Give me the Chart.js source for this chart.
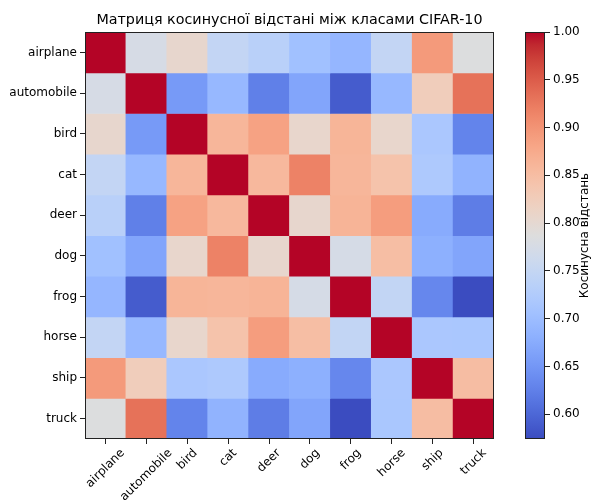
<!DOCTYPE html>
<html>
<head>
<meta charset="utf-8">
<script src="https://cdn.jsdelivr.net/npm/chart.js@4.4.1/dist/chart.umd.min.js"></script>
<style>
  html, body { margin: 0; padding: 0; background: #ffffff; }
  #wrap { position: relative; width: 592px; height: 502px; overflow: hidden; }
  canvas { position: absolute; top: 0; }
</style>
</head>
<body>
<div id="wrap">
  <canvas id="main" width="592" height="502" style="left:0"></canvas>
  <canvas id="cbar" width="92" height="502" style="left:500px"></canvas>
</div>
<script>
// ---------- data ----------
const classes = ['airplane', 'automobile', 'bird', 'cat', 'deer', 'dog', 'frog', 'horse', 'ship', 'truck'];

const rowAirplane   = [1.000, 0.775, 0.805, 0.748, 0.735, 0.705, 0.690, 0.748, 0.893, 0.785];
const rowAutomobile = [0.775, 1.000, 0.654, 0.693, 0.625, 0.667, 0.589, 0.693, 0.825, 0.932];
const rowBird       = [0.805, 0.654, 1.000, 0.860, 0.885, 0.806, 0.862, 0.806, 0.717, 0.629];
const rowCat        = [0.748, 0.693, 0.860, 1.000, 0.857, 0.917, 0.860, 0.842, 0.720, 0.685];
const rowDeer       = [0.735, 0.625, 0.885, 0.857, 1.000, 0.805, 0.863, 0.890, 0.674, 0.622];
const rowDog        = [0.705, 0.667, 0.806, 0.917, 0.805, 1.000, 0.774, 0.849, 0.680, 0.667];
const rowFrog       = [0.690, 0.589, 0.862, 0.860, 0.863, 0.774, 1.000, 0.747, 0.633, 0.574];
const rowHorse      = [0.748, 0.693, 0.806, 0.842, 0.890, 0.849, 0.747, 1.000, 0.717, 0.716];
const rowShip       = [0.893, 0.825, 0.717, 0.720, 0.674, 0.680, 0.633, 0.717, 1.000, 0.850];
const rowTruck      = [0.785, 0.932, 0.629, 0.685, 0.622, 0.667, 0.574, 0.716, 0.850, 1.000];

const distanceRows = [rowAirplane, rowAutomobile, rowBird, rowCat, rowDeer, rowDog, rowFrog, rowHorse, rowShip, rowTruck];

const colorbarTicks = [0.60, 0.65, 0.70, 0.75, 0.80, 0.85, 0.90, 0.95, 1.00];
const titleText = 'Матриця косинусної відстані між класами CIFAR-10';
const colorbarLabel = 'Косинусна відстань';

// ---------- colormap (coolwarm) ----------
const COOLWARM = [
  [59,76,192],[68,90,204],[77,104,215],[87,117,225],[98,130,234],[108,142,241],[119,154,247],[130,165,251],
  [141,176,254],[152,185,255],[163,194,255],[174,201,253],[184,208,249],[194,213,244],[204,217,238],[213,219,230],
  [221,221,221],[229,216,209],[236,211,197],[241,204,185],[245,196,173],[247,187,160],[247,177,148],[247,166,135],
  [244,154,123],[241,141,111],[236,127,99],[229,112,88],[222,96,77],[213,80,66],[203,62,56],[192,40,47],[180,4,38]
];
function cmap(t) {
  t = Math.max(0, Math.min(1, t));
  const n = COOLWARM.length - 1;
  const p = t * n;
  const i = Math.min(Math.floor(p), n - 1);
  const f = p - i;
  const a = COOLWARM[i], b = COOLWARM[i + 1];
  const c = a.map((v, k) => Math.round(v + (b[k] - v) * f));
  return `rgb(${c[0]},${c[1]},${c[2]})`;
}
const allVals = distanceRows.flat();
const vmin = Math.min(...allVals);
const vmax = Math.max(...allVals);
const norm = v => (v - vmin) / (vmax - vmin);

const FONT = 'DejaVu Sans';

// Category scale whose rotated labels are centred on their tick (like matplotlib ha="center")
class CenteredCategoryScale extends Chart.CategoryScale {
  _computeLabelItems(chartArea) {
    const items = super._computeLabelItems(chartArea);
    const rot = (this.labelRotation || 0) * Math.PI / 180;
    if (!rot) return items;
    const ctx = this.ctx;
    items.forEach(item => {
      const f = item.font || (item.options && item.options.font);
      ctx.save();
      if (f && f.string) ctx.font = f.string;
      const w = ctx.measureText(String(item.label)).width;
      ctx.restore();
      item.options.translation[0] += (w / 2) * Math.cos(rot);
    });
    return items;
  }
}
CenteredCategoryScale.id = 'centeredCategory';
CenteredCategoryScale.defaults = Chart.CategoryScale.defaults;
Chart.register(CenteredCategoryScale);

const frame = {
  id: 'frame',
  afterDraw(chart) {
    const { ctx, chartArea: a } = chart;
    ctx.save();
    ctx.strokeStyle = '#222';
    ctx.lineWidth = 1;
    ctx.strokeRect(Math.round(a.left) + 0.5, Math.round(a.top) + 0.5,
                   Math.round(a.right - a.left) - 1, Math.round(a.bottom - a.top) - 1);
    ctx.restore();
  }
};

// ---------- heatmap ----------
new Chart(document.getElementById('main'), {
  type: 'bar',
  data: {
    labels: classes,
    datasets: distanceRows.map((row, i) => ({
      label: classes[i],
      data: row.map(() => [i, i + 1]),
      backgroundColor: row.map(v => cmap(norm(v))),
      borderWidth: 0,
      grouped: false,
      barPercentage: 1,
      categoryPercentage: 1
    }))
  },
  options: {
    responsive: false,
    animation: false,
    devicePixelRatio: 1,
    layout: { padding: { left: 0, right: 98, top: 0, bottom: 0 } },
    plugins: {
      legend: { display: false },
      tooltip: { enabled: false },
      title: {
        display: true,
        text: titleText,
        fullSize: false,
        color: '#000',
        font: { family: FONT, size: 14.3, weight: 'normal' },
        padding: { top: 12, bottom: 3 }
      }
    },
    scales: {
      x: {
        type: 'centeredCategory',
        offset: true,
        afterFit: s => { s.height = 63; },
        grid: { offset: false, drawOnChartArea: false, tickLength: 5, color: '#222' },
        border: { display: false },
        ticks: {
          autoSkip: false, maxRotation: 45, minRotation: 45, padding: 2,
          color: '#000', font: { family: FONT, size: 12 }
        }
      },
      y: {
        type: 'linear',
        min: 0, max: 10, reverse: true,
        afterFit: s => { s.width = 85; },
        afterBuildTicks: s => { s.ticks = classes.map((_, i) => ({ value: i + 0.5 })); },
        grid: { drawOnChartArea: false, tickLength: 5, color: '#222' },
        border: { display: false },
        ticks: {
          autoSkip: false, padding: 3, color: '#000', font: { family: FONT, size: 12 },
          callback: (v, idx) => classes[idx]
        }
      }
    }
  },
  plugins: [frame]
});

// ---------- colorbar ----------
const cbarLabelPlugin = {
  id: 'cbarLabel',
  afterDraw(chart) {
    const { ctx, chartArea: a } = chart;
    ctx.save();
    ctx.translate(85, (a.top + a.bottom) / 2);
    ctx.rotate(-Math.PI / 2);
    ctx.textAlign = 'center';
    ctx.textBaseline = 'middle';
    ctx.fillStyle = '#000';
    ctx.font = `12px "${FONT}"`;
    ctx.fillText(colorbarLabel, 0, 0);
    ctx.restore();
  }
};

new Chart(document.getElementById('cbar'), {
  type: 'bar',
  data: {
    labels: ['cb'],
    datasets: [{
      data: [[vmin, vmax]],
      borderWidth: 0,
      barPercentage: 1,
      categoryPercentage: 1,
      backgroundColor: (context) => {
        const { ctx, chartArea } = context.chart;
        if (!chartArea) return '#dddddd';
        const g = ctx.createLinearGradient(0, chartArea.bottom, 0, chartArea.top);
        const n = COOLWARM.length - 1;
        COOLWARM.forEach((c, i) => g.addColorStop(i / n, `rgb(${c[0]},${c[1]},${c[2]})`));
        return g;
      }
    }]
  },
  options: {
    responsive: false,
    animation: false,
    devicePixelRatio: 1,
    layout: { padding: { left: 25, right: 0, top: 32, bottom: 63 } },
    plugins: { legend: { display: false }, tooltip: { enabled: false }, title: { display: false } },
    scales: {
      x: { display: false },
      y: {
        position: 'right',
        min: vmin, max: vmax,
        afterFit: s => { s.width = 47; },
        afterBuildTicks: s => { s.ticks = colorbarTicks.map(v => ({ value: v })); },
        grid: { drawOnChartArea: false, tickLength: 5, color: '#222' },
        border: { display: false },
        ticks: {
          padding: 3, color: '#000', font: { family: FONT, size: 12 },
          callback: v => Number(v).toFixed(2)
        }
      }
    }
  },
  plugins: [frame, cbarLabelPlugin]
});
</script>
</body>
</html>
